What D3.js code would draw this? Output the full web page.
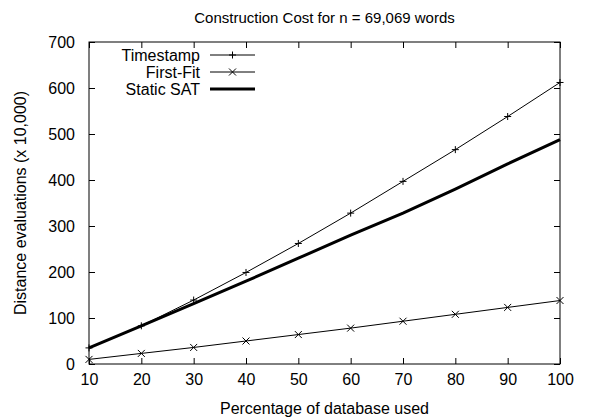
<!DOCTYPE html>
<html>
<head>
<meta charset="utf-8">
<script src="https://cdn.jsdelivr.net/npm/d3@7"></script>
<style>
  html, body { margin: 0; padding: 0; background: #fff; }
  svg { display: block; font-family: "Liberation Sans", Arial, Helvetica, sans-serif; }
</style>
</head>
<body>
<svg id="chart" width="603" height="420"></svg>
<script>
// Percentage of the database used
const percentages = [10, 20, 30, 40, 50, 60, 70, 80, 90, 100];
// Distance evaluations (x 10,000)
const timestamp = [35, 83, 139, 199, 262, 328, 397, 466, 538, 612];
const firstFit  = [10, 23, 36, 50, 64, 78, 93, 108, 123, 138];
const staticSat = [35, 83, 131, 180, 230, 280, 328, 380, 435, 488];

const xTicks = [10, 20, 30, 40, 50, 60, 70, 80, 90, 100];
const yTicks = [0, 100, 200, 300, 400, 500, 600, 700];

const seriesNames = ["Timestamp", "First-Fit", "Static SAT"];

const svg = d3.select("#chart");
const margin = { left: 89, right: 43, top: 42, bottom: 56 };
const W = 603, H = 420;

const x = d3.scaleLinear().domain([10, 100]).range([margin.left, W - margin.right]);
const y = d3.scaleLinear().domain([0, 700]).range([H - margin.bottom, margin.top]);

const tickLen = 6;
const fontSize = 16;

// Axes with inward ticks, mirrored on top and right
const gx = svg.append("g").attr("transform", `translate(0,${y(0)})`)
  .call(d3.axisBottom(x).tickValues(xTicks).tickSize(-tickLen).tickPadding(10).tickFormat(d3.format("d")));
const gxTop = svg.append("g").attr("transform", `translate(0,${y(700)})`)
  .call(d3.axisTop(x).tickValues(xTicks).tickSize(-tickLen).tickFormat(""));
const gy = svg.append("g").attr("transform", `translate(${x(10)},0)`)
  .call(d3.axisLeft(y).tickValues(yTicks).tickSize(-tickLen).tickPadding(14).tickFormat(d3.format("d")));
const gyRight = svg.append("g").attr("transform", `translate(${x(100)},0)`)
  .call(d3.axisRight(y).tickValues(yTicks).tickSize(-tickLen).tickFormat(""));

[gx, gxTop, gy, gyRight].forEach(g => {
  g.select(".domain").remove();
  g.selectAll(".tick line").attr("stroke", "#000").attr("stroke-width", 1);
  g.selectAll("text").attr("font-size", fontSize).attr("fill", "#000")
    .attr("font-family", "Liberation Sans, Arial, sans-serif");
});

// Plot frame
svg.append("rect")
  .attr("x", x(10)).attr("y", y(700))
  .attr("width", x(100) - x(10)).attr("height", y(0) - y(700))
  .attr("fill", "none").attr("stroke", "#000").attr("stroke-width", 1);

// Line generator
const line = d3.line().x((d, i) => x(percentages[i])).y(d => y(d));

const thinW = 1, thickW = 3;
const m = 3.5; // marker half-size

function plusMarker(g, cx, cy) {
  g.append("path").attr("d", `M${cx - m},${cy}H${cx + m}M${cx},${cy - m}V${cy + m}`)
    .attr("stroke", "#000").attr("stroke-width", 1).attr("fill", "none");
}
function crossMarker(g, cx, cy) {
  g.append("path").attr("d", `M${cx - m},${cy - m}L${cx + m},${cy + m}M${cx - m},${cy + m}L${cx + m},${cy - m}`)
    .attr("stroke", "#000").attr("stroke-width", 1).attr("fill", "none");
}

const plot = svg.append("g");

plot.append("path").datum(staticSat).attr("d", line)
  .attr("fill", "none").attr("stroke", "#000").attr("stroke-width", thickW);
plot.append("path").datum(timestamp).attr("d", line)
  .attr("fill", "none").attr("stroke", "#000").attr("stroke-width", thinW);
plot.append("path").datum(firstFit).attr("d", line)
  .attr("fill", "none").attr("stroke", "#000").attr("stroke-width", thinW);

timestamp.forEach((v, i) => plusMarker(plot, x(percentages[i]), y(v)));
firstFit.forEach((v, i) => crossMarker(plot, x(percentages[i]), y(v)));

// Legend
const legend = svg.append("g");
const legTextX = 200, legLineX0 = 210, legLineX1 = 255;
const legRows = [55, 72, 89];
seriesNames.forEach((name, i) => {
  const ly = legRows[i];
  legend.append("text").attr("x", legTextX).attr("y", ly).attr("dy", "0.35em")
    .attr("text-anchor", "end").attr("font-size", fontSize).text(name);
  legend.append("line").attr("x1", legLineX0).attr("x2", legLineX1).attr("y1", ly).attr("y2", ly)
    .attr("stroke", "#000").attr("stroke-width", i === 2 ? thickW : thinW);
  const mx = (legLineX0 + legLineX1) / 2;
  if (i === 0) plusMarker(legend, mx, ly);
  if (i === 1) crossMarker(legend, mx, ly);
});

// Title and axis labels
svg.append("text").attr("x", (x(10) + x(100)) / 2).attr("y", 23)
  .attr("text-anchor", "middle").attr("font-size", 15)
  .text("Construction Cost for n = 69,069 words");
svg.append("text").attr("x", (x(10) + x(100)) / 2).attr("y", 414)
  .attr("text-anchor", "middle").attr("font-size", fontSize)
  .text("Percentage of database used");
svg.append("text").attr("transform", `translate(26,${(y(0) + y(700)) / 2}) rotate(-90)`)
  .attr("text-anchor", "middle").attr("font-size", fontSize)
  .text("Distance evaluations (x 10,000)");
</script>
</body>
</html>
